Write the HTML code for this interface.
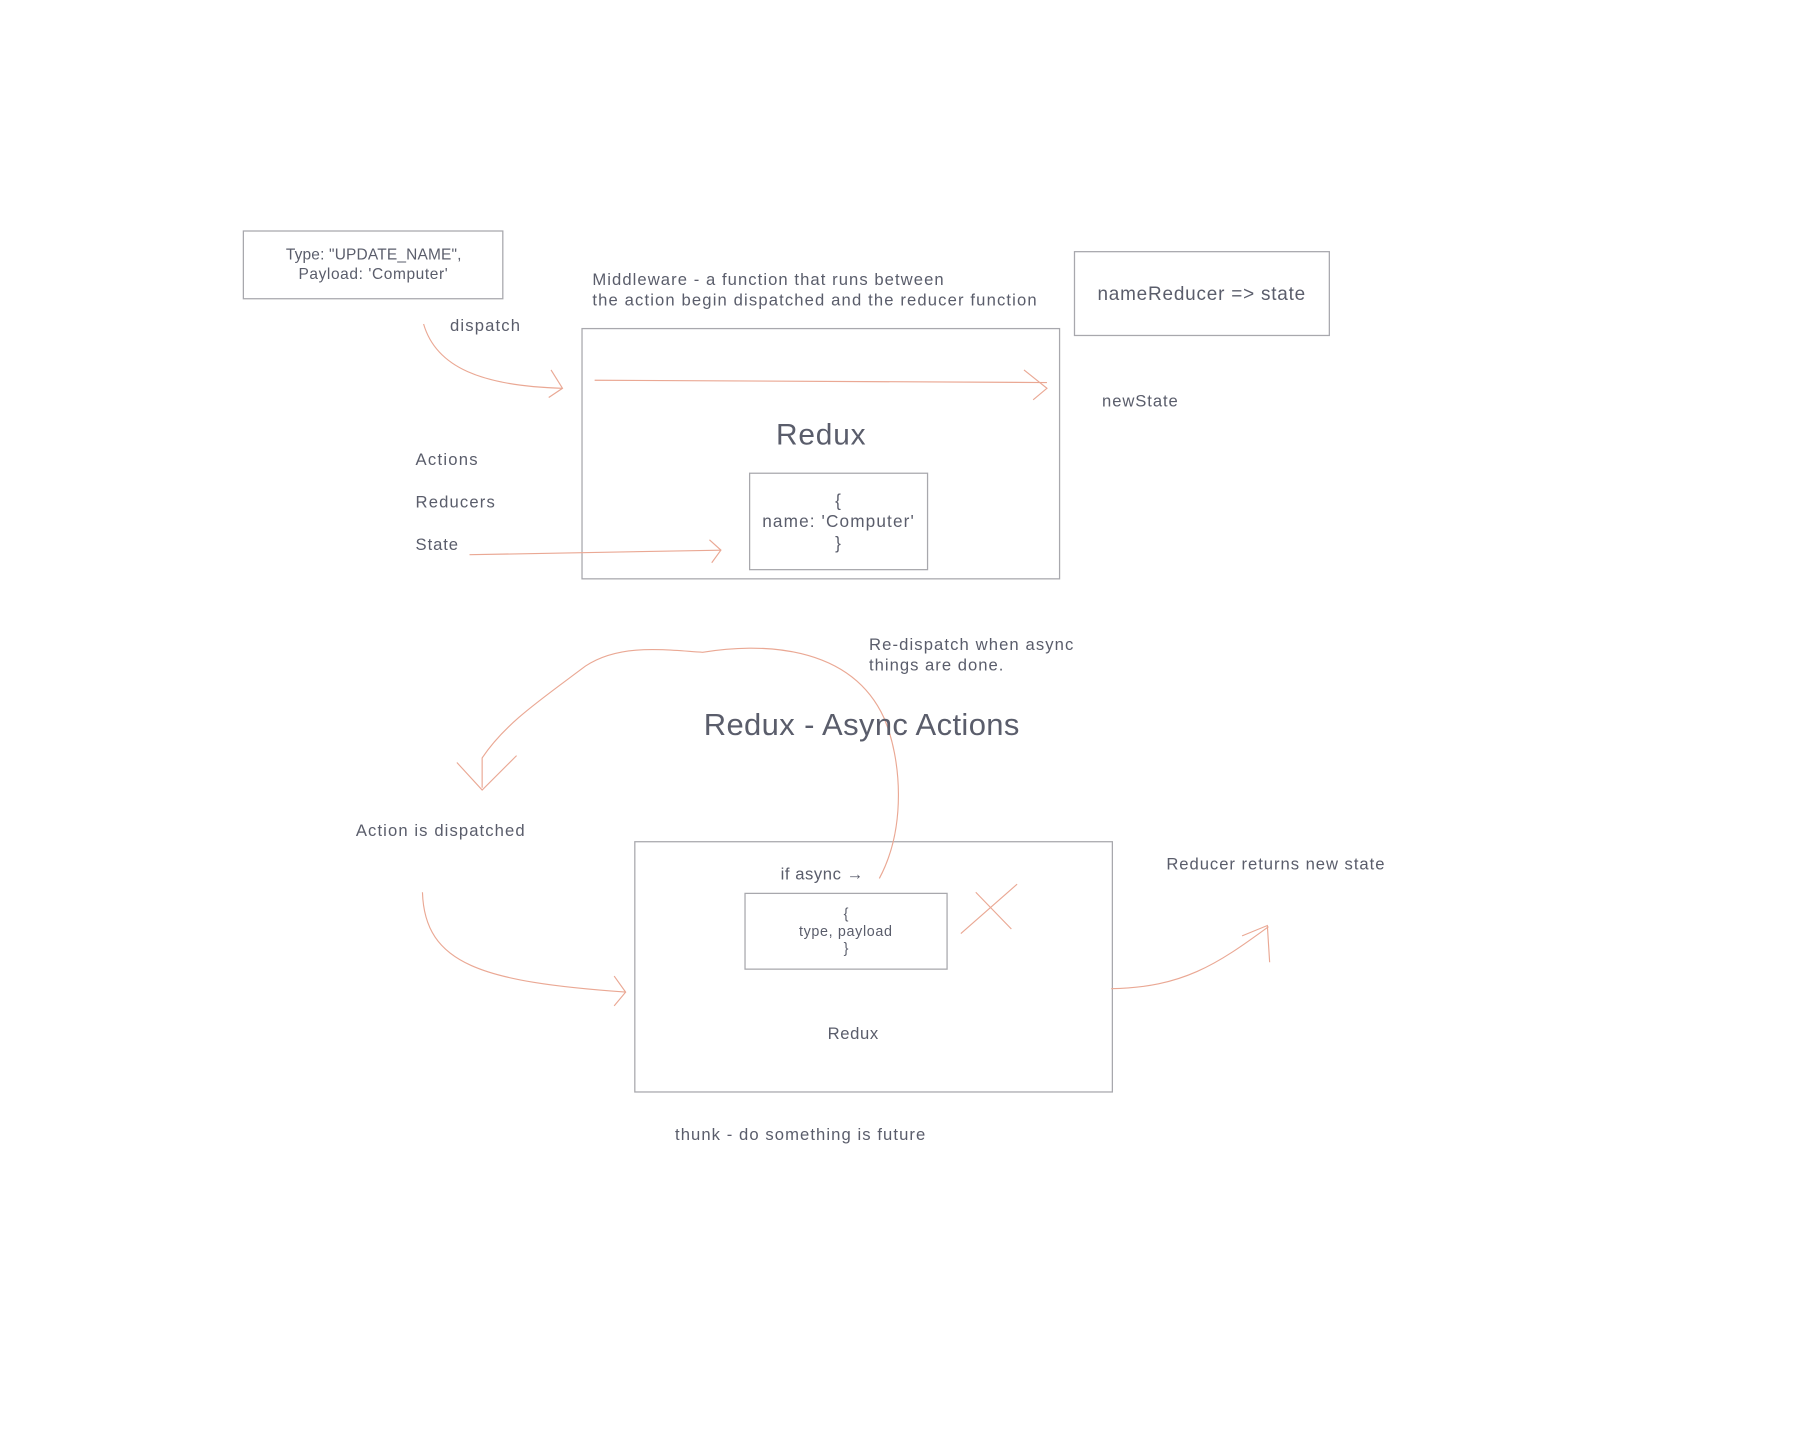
<!DOCTYPE html>
<html><head><meta charset="utf-8"><style>
html,body{margin:0;padding:0;background:#fff;}
svg{display:block;}
text{font-family:"Liberation Sans",sans-serif;fill:#5a5d6b;}
</style></head><body>
<svg width="1800" height="1455" viewBox="0 0 1568 1267" xmlns="http://www.w3.org/2000/svg">
<rect width="1568" height="1267" fill="#fff"/>
<g fill="none" stroke="#a8a8ad" stroke-width="1.1">
<rect x="212" y="201" width="226" height="59"/>
<rect x="936" y="219" width="222" height="73"/>
<rect x="507" y="286" width="416" height="218"/>
<rect x="653" y="412" width="155" height="84"/>
<rect x="553" y="733" width="416" height="218"/>
<rect x="649" y="778" width="176" height="66"/>
</g>
<g fill="none" stroke="#eaa894" stroke-width="1">
<path d="M369 282 C380 320 420 336 490 338"/>
<path d="M480 322 L490 338 L478 346"/>
<path d="M518 331 L912 333"/>
<path d="M892 322 L912 338 L900 348"/>
<path d="M409 483 L628 479"/>
<path d="M618 470 L628 479 L620 490"/>
<path d="M766 765 C790 720 785 660 770 625 C740 560 660 560 612 568 C580 566 540 560 510 580 C470 610 440 630 420 660 L420 686"/>
<path d="M398 664 L420 688 L450 658"/>
<path d="M368 777 C370 840 420 855 545 864"/>
<path d="M535 850 L545 864 L535 876"/>
<path d="M968 861 C1030 860 1060 840 1105 807"/>
<path d="M1082 815 L1104 806 L1106 838"/>
<path d="M837 813 L886 770 M850 777 L881 809"/>
</g>
<text x="249" y="226" font-size="13.5" textLength="153" fill="#333">Type: "UPDATE_NAME",</text>
<text x="260" y="243" font-size="13.5" textLength="130" fill="#333">Payload: 'Computer'</text>
<text x="956" y="261" font-size="16.5" textLength="181" fill="#333">nameReducer =&gt; state</text>
<text x="516" y="248" font-size="14.5" textLength="306">Middleware - a function that runs between</text>
<text x="516" y="266" font-size="14.5" textLength="387">the action begin dispatched and the reducer function</text>
<text x="392" y="288" font-size="14.5" textLength="61">dispatch</text>
<text x="960" y="354" font-size="14.5" textLength="66">newState</text>
<text x="676" y="387" font-size="26" textLength="78">Redux</text>
<text x="362" y="405" font-size="14.5" textLength="54">Actions</text>
<text x="362" y="442" font-size="14.5" textLength="69">Reducers</text>
<text x="362" y="479" font-size="14.5" textLength="37">State</text>
<text x="730" y="441" font-size="15" text-anchor="middle" fill="#333">{</text>
<text x="664" y="459" font-size="15" textLength="132" fill="#333">name: 'Computer'</text>
<text x="730" y="478" font-size="15" text-anchor="middle" fill="#333">}</text>
<text x="757" y="566" font-size="14.5" textLength="178">Re-dispatch when async</text>
<text x="757" y="584" font-size="14.5" textLength="117">things are done.</text>
<text x="613" y="640" font-size="27" textLength="275">Redux - Async Actions</text>
<text x="310" y="728" font-size="14.5" textLength="147">Action is dispatched</text>
<text x="1016" y="757" font-size="14.5" textLength="190">Reducer returns new state</text>
<text x="680" y="766" font-size="14.5" textLength="72">if async →</text>
<text x="737" y="800" font-size="12.5" text-anchor="middle" fill="#333">{</text>
<text x="696" y="815" font-size="12.5" textLength="81" fill="#333">type, payload</text>
<text x="737" y="830" font-size="12.5" text-anchor="middle" fill="#333">}</text>
<text x="721" y="905" font-size="14.5" textLength="44">Redux</text>
<text x="588" y="993" font-size="14.5" textLength="218">thunk - do something is future</text>
</svg>
</body></html>
